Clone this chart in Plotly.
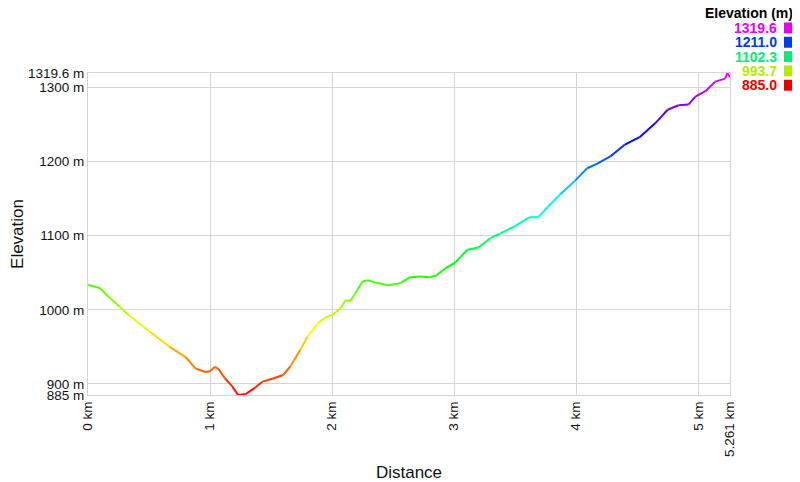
import colorsys
import plotly.graph_objects as go

# distance along the track (km) and elevation (m), read from the profile
distance_km = [0.00, 0.10, 0.16, 0.26, 0.34, 0.51, 0.67, 0.80, 0.88, 0.96,
               1.00, 1.04, 1.07, 1.12, 1.18, 1.23, 1.29, 1.37, 1.43, 1.51,
               1.60, 1.66, 1.74, 1.80, 1.89, 1.94, 2.01, 2.07, 2.11, 2.15,
               2.19, 2.25, 2.29, 2.35, 2.46, 2.56, 2.64, 2.72, 2.80, 2.85,
               2.93, 3.01, 3.11, 3.20, 3.30, 3.38, 3.50, 3.62, 3.69, 3.77,
               3.87, 3.99, 4.09, 4.17, 4.28, 4.40, 4.52, 4.65, 4.75, 4.84,
               4.92, 4.98, 5.06, 5.14, 5.22, 5.24, 5.261]
elevation_m = [1034, 1029, 1019, 1004, 992, 970, 950, 936, 921, 916,
               917, 923, 920, 908, 897, 885, 886, 895, 903, 907,
               912, 924, 946, 964, 983, 989, 994, 1002, 1013, 1012,
               1022, 1038, 1040, 1037, 1033, 1036, 1044, 1045, 1044, 1046,
               1056, 1064, 1081, 1084, 1097, 1103, 1113, 1125, 1125, 1139,
               1156, 1174, 1191, 1197, 1207, 1223, 1233, 1252, 1270, 1276,
               1277, 1288, 1295, 1308, 1312, 1319.6, 1314]

x_tickvals = [0, 1, 2, 3, 4, 5, 5.261]
x_ticktext = ["0 km", "1 km", "2 km", "3 km", "4 km", "5 km", "5.261 km"]
y_tickvals = [885, 900, 1000, 1100, 1200, 1300, 1319.6]
y_ticktext = ["885 m", "900 m", "1000 m", "1100 m", "1200 m", "1300 m", "1319.6 m"]
legend_values = [1319.6, 1211.0, 1102.3, 993.7, 885.0]

e_min, e_max = 885.0, 1319.6


def elev_color(e, v=1.0):
    frac = min(max((e - e_min) / (e_max - e_min), 0), 1)
    r, g, b = colorsys.hsv_to_rgb(frac * 300 / 360, 1, v)
    return f"rgb({int(r*255)},{int(g*255)},{int(b*255)})"


fig = go.Figure()
for i in range(len(distance_km) - 1):
    mid = (elevation_m[i] + elevation_m[i + 1]) / 2
    fig.add_trace(go.Scatter(
        x=distance_km[i:i + 2], y=elevation_m[i:i + 2], mode="lines",
        line=dict(color=elev_color(mid), width=2), showlegend=False,
        hoverinfo="skip"))

# page body keeps its default 8px margin, so the figure is 8px smaller
font = "Liberation Sans, Arial, sans-serif"
fig.update_layout(
    width=792, height=474,
    margin=dict(l=80, r=70, t=65, b=87, autoexpand=False),
    plot_bgcolor="white", paper_bgcolor="white",
    font=dict(family=font, size=13.5, color="#111"),
    xaxis=dict(range=[0, 5.261], tickvals=x_tickvals, ticktext=x_ticktext,
               tickangle=-90, showgrid=True, gridcolor="#d4d4d4",
               showline=True, mirror=True, linecolor="#d4d4d4",
               zeroline=False, ticks="", automargin=False,
               title=dict(text="Distance", font=dict(size=17), standoff=14)),
    yaxis=dict(range=[885, 1319.6], tickvals=y_tickvals, ticktext=y_ticktext,
               showgrid=True, gridcolor="#d4d4d4", showline=True, mirror=True,
               linecolor="#d4d4d4", zeroline=False, ticks="", automargin=False,
               title=dict(text="Elevation", font=dict(size=17), standoff=8)),
)

fig.add_annotation(x=1.1012, y=1.186, xref="paper", yref="paper",
                   text="<b>Elevation (m)</b>", showarrow=False,
                   xanchor="right", yanchor="middle",
                   font=dict(size=14, color="black"))
for k, val in enumerate(legend_values):
    yp = 1.140 - k * 0.0445
    fig.add_annotation(x=1.0763, y=yp, xref="paper", yref="paper",
                       text=f"<b>{val:.1f}</b>", showarrow=False,
                       xanchor="right", yanchor="middle",
                       font=dict(size=14, color=elev_color(val, 0.93)))
    fig.add_shape(type="rect", xref="paper", yref="paper",
                  x0=1.0841, x1=1.1012, y0=yp - 0.017, y1=yp + 0.017,
                  fillcolor=elev_color(val, 0.93), line=dict(width=0))

fig.write_html("out.html")
